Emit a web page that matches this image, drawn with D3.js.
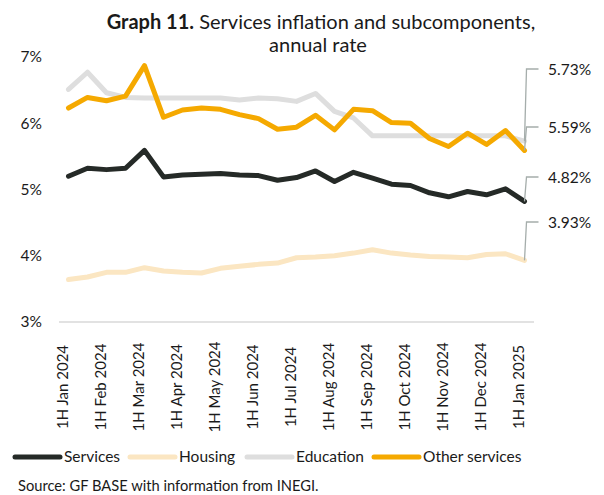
<!DOCTYPE html>
<html>
<head>
<meta charset="utf-8">
<script src="https://cdn.jsdelivr.net/npm/d3@7"></script>
<style>
  body { margin: 0; background: #fff; }
  text { font-family: Lato, "Open Sans", sans-serif; fill: #1a1a1a; }
</style>
</head>
<body>
<div id="chart"></div>
<script>
// set parameters
var svgWidth = 604;
var svgHeight = 495;

// data (semi-monthly, annual %)
var periods = ["1H Jan 2024", "2H Jan 2024", "1H Feb 2024", "2H Feb 2024", "1H Mar 2024", "2H Mar 2024",
    "1H Apr 2024", "2H Apr 2024", "1H May 2024", "2H May 2024", "1H Jun 2024", "2H Jun 2024",
    "1H Jul 2024", "2H Jul 2024", "1H Aug 2024", "2H Aug 2024", "1H Sep 2024", "2H Sep 2024",
    "1H Oct 2024", "2H Oct 2024", "1H Nov 2024", "2H Nov 2024", "1H Dec 2024", "2H Dec 2024",
    "1H Jan 2025"];
var services = [5.20, 5.32, 5.30, 5.32, 5.59, 5.19, 5.22, 5.23, 5.24, 5.22, 5.21, 5.14, 5.18,
    5.28, 5.12, 5.26, 5.17, 5.08, 5.06, 4.95, 4.89, 4.97, 4.92, 5.01, 4.82];
var housing = [3.64, 3.68, 3.75, 3.75, 3.82, 3.77, 3.75, 3.74, 3.81, 3.84, 3.87, 3.89, 3.97,
    3.98, 4.00, 4.04, 4.09, 4.04, 4.01, 3.99, 3.98, 3.97, 4.02, 4.03, 3.93];
var education = [6.51, 6.77, 6.46, 6.39, 6.38, 6.38, 6.38, 6.38, 6.38, 6.35, 6.38, 6.37, 6.33,
    6.45, 6.18, 6.08, 5.81, 5.81, 5.81, 5.81, 5.81, 5.81, 5.81, 5.81, 5.73];
var otherServices = [6.23, 6.39, 6.34, 6.41, 6.87, 6.09, 6.20, 6.23, 6.21, 6.13, 6.07, 5.91, 5.94,
    6.12, 5.90, 6.21, 6.19, 6.01, 6.00, 5.77, 5.65, 5.85, 5.68, 5.89, 5.59];
var yTicks = [3, 4, 5, 6, 7];

var seriesList = [
    { name: "Services", values: services, color: "#252a27", label: "4.82%", labelY: 178 },
    { name: "Housing", values: housing, color: "#fbe6c2", label: "3.93%", labelY: 223 },
    { name: "Education", values: education, color: "#dedede", label: "5.73%", labelY: 70 },
    { name: "Other services", values: otherServices, color: "#f5a900", label: "5.59%", labelY: 128 }
];
// draw order: light ones first
var drawOrder = [1, 2, 3, 0];

var svg = d3.select("#chart")
    .append("svg")
    .attr("width", svgWidth)
    .attr("height", svgHeight);

// scales
var xScale = d3.scalePoint()
    .domain(periods)
    .range([59, 534])
    .padding(0.5);

var yScale = d3.scaleLinear()
    .domain([3, 7])
    .range([322, 57]);

// title
var title = svg.append("text")
    .attr("x", 321)
    .attr("y", 29)
    .attr("text-anchor", "middle")
    .style("font-size", "20px");
title.append("tspan").style("font-weight", "bold").text("Graph 11.");
title.append("tspan").text(" Services inflation and subcomponents,");
svg.append("text")
    .attr("x", 318)
    .attr("y", 52)
    .attr("text-anchor", "middle")
    .style("font-size", "20px")
    .text("annual rate");

// baseline only
svg.append("line")
    .attr("x1", 59).attr("x2", 534)
    .attr("y1", yScale(3)).attr("y2", yScale(3))
    .attr("stroke", "#d9d9d9")
    .attr("stroke-width", 1.3);

// y axis labels
var leftAxis = d3.axisLeft(yScale)
    .tickValues(yTicks)
    .tickSize(0)
    .tickPadding(0)
    .tickFormat(d => d + "%");
var yAxisG = svg.append("g")
    .attr("transform", "translate(42,0)")
    .call(leftAxis);
yAxisG.select(".domain").remove();
yAxisG.selectAll("text")
    .style("font-size", "15.5px")
    .attr("font-family", null)
    .attr("fill", null);

// x axis labels (every other period, rotated)
var bottomAxis = d3.axisBottom(xScale)
    .tickValues(periods.filter((d, i) => i % 2 === 0))
    .tickSize(0);
var xAxisG = svg.append("g")
    .call(bottomAxis);
xAxisG.select(".domain").remove();
xAxisG.selectAll(".tick")
    .attr("transform", d => `translate(${xScale(d) - 1}, 387)`);
xAxisG.selectAll(".tick text")
    .attr("y", 0)
    .attr("dy", 0)
    .attr("transform", "rotate(-90)")
    .attr("text-anchor", "middle")
    .attr("font-family", null)
    .attr("fill", null)
    .style("font-size", "15px");

// lines
var line = d3.line()
    .x((d, i) => xScale(periods[i]))
    .y(d => yScale(d));

drawOrder.forEach(function(k) {
    var s = seriesList[k];
    svg.append("path")
        .datum(s.values)
        .attr("d", line)
        .attr("fill", "none")
        .attr("stroke", s.color)
        .attr("stroke-width", 5)
        .attr("stroke-linejoin", "round")
        .attr("stroke-linecap", "round");
});

// end labels with leader lines
seriesList.forEach(function(s) {
    var last = s.values[s.values.length - 1];
    var px = xScale(periods[periods.length - 1]);
    var py = yScale(last);
    svg.append("polyline")
        .attr("points", `${px},${py} ${px + 2},${s.labelY - 1} ${px + 14},${s.labelY - 1}`)
        .attr("fill", "none")
        .attr("stroke", "#a5adab")
        .attr("stroke-width", 1.3);
    svg.append("text")
        .attr("x", 548)
        .attr("y", s.labelY + 5)
        .style("font-size", "15.5px")
        .text(s.label);
});

// legend
var legendX = [13, 128, 245, 372];
var legend = svg.selectAll(".legend")
    .data(seriesList)
    .enter()
    .append("g")
    .attr("transform", (d, i) => `translate(${legendX[i]}, 457)`);
legend.append("line")
    .attr("x1", 2).attr("x2", 47)
    .attr("stroke", d => d.color)
    .attr("stroke-width", 5)
    .attr("stroke-linecap", "round");
legend.append("text")
    .attr("x", 51)
    .attr("y", 5)
    .style("font-size", "15.5px")
    .text(d => d.name);

// source
svg.append("text")
    .attr("x", 18)
    .attr("y", 491)
    .style("font-size", "14.7px")
    .text("Source: GF BASE with information from INEGI.");
</script>
</body>
</html>
